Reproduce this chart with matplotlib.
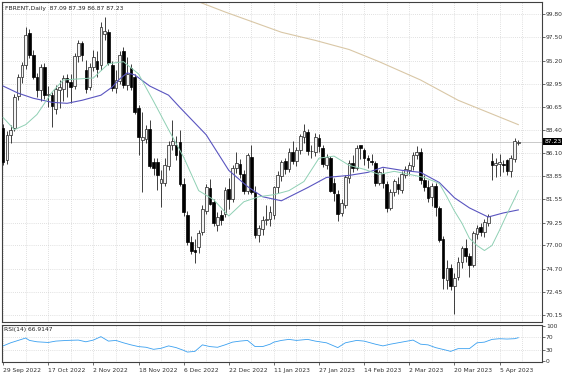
import matplotlib
matplotlib.use('Agg')
import matplotlib.pyplot as plt
import matplotlib.transforms as mtransforms
import numpy as np

# daily bars, bar 0 = 29 Sep 2022 ... bar 137 = 13 Apr 2023
opens = [88.6, 85.4, 87.9, 88.6, 91.7, 93.6, 94.8, 97.9, 95.8, 93.6,
         92.3, 94.6, 91.8, 91.8, 90.4, 92.3, 92.4, 93.5, 93.1, 92.7,
         95.7, 96.9, 94.3, 92.6, 94.6, 95.2, 94.8, 97.8, 98.0, 94.8,
         92.5, 93.2, 96.2, 92.8, 94.5, 93.6, 90.5, 87.4, 87.5, 88.5,
         85.2, 85.2, 83.2, 83.2, 84.8, 86.9, 86.9, 87.2, 83.1, 80.0,
         77.3, 76.6, 76.8, 78.3, 80.4, 82.7, 81.3, 79.0, 80.0, 80.1,
         82.6, 81.6, 84.6, 85.0, 84.0, 82.4, 85.7, 82.3, 78.0, 78.6,
         79.5, 79.6, 80.0, 82.8, 83.8, 85.3, 84.5, 86.2, 85.3, 86.4,
         87.7, 88.2, 86.3, 86.2, 87.6, 86.6, 84.9, 85.6, 83.2, 82.1,
         80.2, 81.0, 83.6, 85.1, 84.6, 86.9, 86.4, 85.6, 85.3, 85.1,
         83.2, 84.0, 83.1, 80.7, 82.3, 83.1, 82.5, 83.9, 84.4, 84.8,
         85.9, 86.2, 83.4, 82.8, 81.8, 82.9, 80.7, 77.6, 73.6, 74.8,
         73.0, 73.9, 75.4, 76.7, 76.0, 75.1, 78.1, 78.8, 78.3, 79.2,
         85.3, 84.9, 85.0, 85.0, 85.4, 84.3, 85.5, 87.09]
highs = [89.0, 88.3, 88.9, 91.9, 93.9, 95.1, 98.5, 98.3, 96.3, 94.0,
         94.9, 95.0, 92.7, 92.1, 92.8, 93.3, 93.8, 93.9, 93.9, 96.0,
         97.2, 97.1, 95.3, 95.0, 96.3, 96.2, 99.0, 99.5, 98.3, 95.2,
         94.3, 96.2, 96.5, 95.6, 94.9, 93.9, 90.8, 90.1, 88.9, 89.4,
         85.6, 85.6, 84.4, 85.6, 87.3, 89.4, 87.8, 88.4, 83.6, 80.4,
         77.9, 77.6, 78.5, 81.0, 83.1, 83.5, 81.6, 80.3, 80.5, 82.8,
         83.6, 84.9, 86.2, 85.5, 84.4, 86.1, 86.9, 82.9, 79.0, 79.9,
         81.0, 80.9, 82.9, 84.3, 85.4, 85.6, 86.6, 87.3, 86.7, 88.0,
         89.0, 88.5, 86.9, 88.1, 88.0, 86.9, 86.0, 85.8, 83.6, 82.5,
         81.6, 83.9, 85.4, 85.9, 86.9, 86.8, 86.6, 85.9, 86.0, 85.3,
         84.4, 84.6, 83.3, 82.6, 83.5, 83.7, 84.3, 84.8, 85.2, 86.2,
         86.8, 86.6, 83.9, 83.4, 83.2, 83.2, 80.9, 77.9, 75.6, 75.2,
         74.3, 75.9, 76.9, 77.6, 76.3, 78.4, 79.0, 79.2, 79.6, 80.1,
         86.1, 85.6, 86.0, 85.4, 85.5, 85.9, 87.6, 87.39]
lows = [84.9, 85.0, 87.1, 88.3, 91.3, 93.0, 94.4, 95.5, 93.4, 91.6,
        91.2, 91.4, 90.6, 88.7, 89.9, 90.5, 91.2, 91.6, 91.0, 92.4,
        95.1, 95.2, 92.0, 92.3, 94.2, 93.6, 94.3, 97.2, 94.8, 92.2,
        92.0, 92.9, 92.5, 92.3, 92.3, 89.9, 85.9, 82.3, 87.1, 84.6,
        83.9, 82.5, 80.8, 82.9, 84.4, 86.4, 85.4, 82.9, 79.9, 77.0,
        76.2, 75.3, 76.3, 78.0, 80.1, 81.0, 78.9, 78.4, 79.0, 79.8,
        80.6, 81.3, 84.1, 83.6, 82.1, 82.1, 82.1, 77.7, 77.3, 78.0,
        79.0, 78.9, 79.6, 82.2, 83.3, 84.0, 84.2, 85.0, 84.8, 86.0,
        87.1, 85.9, 85.6, 85.8, 86.2, 84.7, 84.5, 82.3, 81.4, 79.4,
        79.9, 80.7, 83.2, 84.2, 84.4, 85.5, 84.9, 84.6, 84.9, 82.9,
        83.0, 82.7, 80.3, 80.5, 81.9, 82.1, 82.2, 83.6, 83.9, 84.4,
        85.5, 83.1, 82.4, 81.3, 80.9, 79.9, 77.3, 72.7, 72.7, 72.6,
        70.2, 73.6, 74.8, 75.4, 73.9, 74.9, 77.6, 77.9, 77.8, 78.9,
        83.4, 83.7, 83.8, 84.2, 83.9, 83.7, 85.2, 86.87]
closes = [85.2, 87.9, 88.4, 91.6, 93.6, 94.8, 97.7, 95.8, 93.6, 92.3,
          94.6, 91.8, 91.9, 90.7, 92.4, 92.6, 93.5, 93.1, 92.6, 95.7,
          96.9, 95.8, 92.4, 94.6, 95.6, 94.4, 98.5, 98.1, 95.0, 92.5,
          93.3, 95.8, 92.8, 93.9, 92.6, 90.1, 87.7, 87.7, 88.5, 84.8,
          84.6, 83.9, 83.5, 84.9, 86.9, 87.3, 85.9, 83.1, 80.3, 77.3,
          76.5, 76.4, 78.2, 80.6, 82.8, 81.1, 79.2, 79.8, 79.5, 82.5,
          81.6, 84.6, 85.1, 84.0, 82.4, 85.9, 82.3, 78.0, 78.7, 79.5,
          79.6, 80.3, 82.8, 83.9, 85.2, 84.5, 86.2, 85.3, 86.4, 87.8,
          88.3, 86.3, 86.3, 87.7, 86.8, 85.0, 85.7, 82.4, 82.2, 80.1,
          81.2, 83.7, 85.1, 84.6, 86.6, 86.6, 85.6, 85.4, 85.2, 83.2,
          84.2, 83.2, 80.7, 82.3, 83.3, 82.6, 84.0, 84.5, 84.9, 85.9,
          86.2, 83.4, 82.8, 81.7, 82.9, 80.8, 77.5, 73.8, 74.8, 73.0,
          73.8, 75.4, 76.7, 76.0, 75.1, 78.2, 78.7, 78.3, 79.3, 79.9,
          84.9, 85.1, 85.2, 84.9, 84.3, 85.6, 87.3, 87.23]

# moving averages (bar, value)
ma_fast_bars = [0, 3, 6, 9, 11, 13, 16, 20, 24, 28, 32, 36, 40, 44, 48, 52, 56, 60,
                64, 68, 72, 76, 80, 84, 88, 92, 96, 100, 104, 108, 112, 116, 118,
                120, 122, 124, 126, 128, 130, 132, 134, 136, 137]
ma_fast = [89.6, 88.4, 88.9, 89.9, 91.0, 92.1, 93.3, 93.4, 93.5, 94.9, 95.1, 93.9,
           91.2, 88.4, 85.7, 82.4, 81.5, 79.9, 81.3, 81.8, 82.0, 82.4, 83.3, 85.6,
           85.8, 84.9, 84.5, 84.0, 84.3, 84.0, 83.7, 83.1, 81.8, 80.4, 79.2, 77.7,
           77.0, 76.5, 77.0, 78.5, 80.1, 81.6, 82.4]
ma_slow_bars = [0, 4, 8, 13, 17, 21, 26, 29, 31, 33, 35, 39, 44, 47, 54, 60, 65, 69,
                74, 81, 86, 92, 97, 101, 106, 111, 116, 120, 124, 129, 133, 137]
ma_slow = [92.7, 92.0, 91.5, 91.1, 91.0, 91.3, 91.8, 92.6, 93.4, 94.0, 93.8, 92.7,
           91.8, 90.6, 87.9, 84.4, 82.8, 81.8, 81.4, 82.7, 83.7, 83.9, 84.2, 84.7,
           84.4, 84.2, 83.2, 81.7, 80.7, 79.8, 80.2, 80.5]
ma_long_bars = [48, 52, 59, 65, 74, 83, 92, 100, 111, 121, 137]
ma_long = [101.5, 101.0, 100.0, 99.2, 98.0, 97.2, 96.3, 95.1, 93.3, 91.3, 88.9]

rsi_bars = [0, 2, 6, 7, 9, 12, 14, 17, 20, 22, 24, 26, 28, 30, 32, 34, 36, 38, 40,
            42, 44, 46, 48, 49, 51, 53, 55, 57, 59, 61, 63, 65, 67, 69, 71, 72, 74,
            76, 78, 81, 83, 86, 89, 91, 94, 96, 99, 101, 103, 106, 109, 111, 113,
            115, 118, 119, 121, 124, 126, 128, 130, 132, 134, 136, 137]
rsi_vals = [43, 52, 66, 59, 55, 53, 57, 59, 60, 55, 60, 70, 57, 59, 52, 46, 41, 39,
            33, 36, 43, 38, 30, 25, 27, 46, 41, 39, 46, 54, 57, 59, 41, 41, 48, 54,
            59, 62, 59, 62, 57, 52, 38, 52, 59, 57, 48, 43, 48, 54, 60, 48, 46, 38,
            30, 27, 35, 35, 52, 54, 62, 64, 63, 64, 66.9]

date_bars = [0, 12, 24, 36, 48, 60, 72, 84, 96, 108, 120, 132]
date_labels = ['29 Sep 2022', '17 Oct 2022', '2 Nov 2022', '18 Nov 2022', '6 Dec 2022',
               '22 Dec 2022', '11 Jan 2023', '27 Jan 2023', '14 Feb 2023', '2 Mar 2023',
               '20 Mar 2023', '5 Apr 2023']
price_ticks = [99.80, 97.50, 95.20, 92.95, 90.65, 88.40, 86.10, 83.85, 81.55,
               79.25, 77.00, 74.70, 72.45, 70.15]
rsi_ticks = [100, 70, 30, 0]
last_price = 87.23

FS = 4.3
GRID = dict(color='#c4c4c4', lw=0.5, ls=(0, (1, 2)))

fig = plt.figure(figsize=(5.64, 3.76), dpi=100)
ax = fig.add_axes([2 / 564, 54 / 376, 540 / 564, 320 / 376])
rx = fig.add_axes([2 / 564, 14 / 376, 540 / 564, 37 / 376])

o = np.array(opens)
h = np.array(highs)
l = np.array(lows)
c = np.array(closes)
x = np.arange(len(c))
up = c >= o
lo = np.minimum(o, c)
ht = np.maximum(np.abs(c - o), 0.05)

# candles: white body = up day, black body = down day
ax.vlines(x, l, h, color='#202020', lw=0.6, zorder=3)
ax.bar(x[up], ht[up], bottom=lo[up], width=0.72, facecolor='#f4f4f4',
       edgecolor='#202020', lw=0.5, zorder=4)
ax.bar(x[~up], ht[~up], bottom=lo[~up], width=0.72, facecolor='black',
       edgecolor='black', lw=0.5, zorder=4)

ax.plot(ma_long_bars, ma_long, color='#d9c7a6', lw=0.8, zorder=2)
ax.plot(ma_slow_bars, ma_slow, color='#5a55c0', lw=0.8, zorder=5)
ax.plot(ma_fast_bars, ma_fast, color='#8fd0b4', lw=0.7, zorder=5)
ax.axhline(last_price, color='#c0c0c0', lw=0.6, zorder=1)

xlim = (-0.3, 143.3)
ax.set_xlim(*xlim)
ax.set_ylim(69.46, 100.98)
ax.set_xticks(np.arange(0, 144, 6))
ax.set_xticklabels([])
ax.tick_params(axis='x', length=0)
ax.yaxis.tick_right()
ax.set_yticks(price_ticks)
ax.set_yticklabels([f'{v:.2f}' for v in price_ticks])
ax.tick_params(axis='y', labelsize=FS, length=2, width=0.5, pad=0.8, colors='#303030')
ax.grid(True, **GRID)
ax.set_axisbelow(True)

trans = mtransforms.blended_transform_factory(ax.transAxes, ax.transData)
ax.text(1.004, last_price, f'{last_price:.2f}', transform=trans, ha='left', va='center',
        fontsize=FS, color='white',
        bbox=dict(facecolor='black', edgecolor='none', pad=0.6))
ax.text(0.006, 0.988, 'FBRENT,Daily  87.09 87.39 86.87 87.23', transform=ax.transAxes,
        ha='left', va='top', fontsize=FS, color='#202020')

# RSI panel
rx.plot(rsi_bars, rsi_vals, color='#3aa0f0', lw=0.6)
rx.set_xlim(*xlim)
rx.set_ylim(-4, 104)
rx.yaxis.tick_right()
rx.set_yticks(rsi_ticks)
rx.set_yticklabels([str(v) for v in rsi_ticks])
rx.tick_params(axis='y', labelsize=FS, length=2, width=0.5, pad=0.8, colors='#303030')
rx.set_xticks(date_bars)
rx.set_xticklabels(date_labels, ha='left')
rx.tick_params(axis='x', labelsize=FS, length=2.5, width=0.5, pad=1.5, colors='#303030')
for v in np.arange(0, 144, 6):
    rx.axvline(v, **GRID, zorder=0)
for v in (70, 30):
    rx.axhline(v, **GRID, zorder=0)
rx.text(0.004, 0.94, 'RSI(14) 66.9147', transform=rx.transAxes, ha='left', va='top',
        fontsize=FS, color='#202020')

for a in (ax, rx):
    for s in a.spines.values():
        s.set_color('#404040')
        s.set_linewidth(0.8)

fig.savefig('out.png', dpi=100, facecolor='white')
